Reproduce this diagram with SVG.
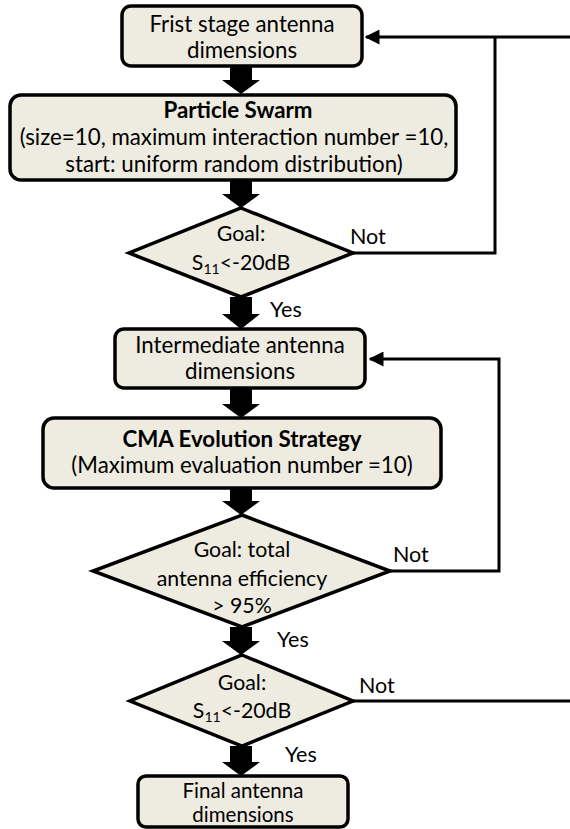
<svg xmlns="http://www.w3.org/2000/svg" width="570" height="829" viewBox="0 0 570 829">
<style>
.n{fill:#EEECE1;stroke:#000;stroke-width:3.5}
.t{font-family:Lato,"Liberation Sans",sans-serif;font-size:22.3px;fill:#000;text-anchor:middle}
.d{font-size:21.3px}
.f{font-size:20.5px}
.b{font-weight:bold}
.l{font-family:Lato,"Liberation Sans",sans-serif;font-size:21.5px;fill:#000}
.c{fill:none;stroke:#000;stroke-width:3}
.ba{fill:#000}
</style>
<defs>
<marker id="ah" markerWidth="5" markerHeight="5" refX="4.5" refY="2.5" orient="auto" markerUnits="strokeWidth">
<path d="M0,0 L5,2.5 L0,5 Z" fill="#000"/>
</marker>
</defs>
<rect width="570" height="829" fill="#fff"/>
<g id="connectors">
<path class="c" d="M570,37 L366,37" marker-end="url(#ah)"/>
<path class="c" d="M353,253 L495,253 L495,37"/>
<path class="c" d="M390,571 L499,571 L499,359 L370,359" marker-end="url(#ah)"/>
<path class="c" d="M353,701 L570,701"/>
<path class="ba" d="M230,66 L252,66 L252,80 L260,80 L241,94 L222,80 L230,80 Z"/>
<path class="ba" d="M230,180 L252,180 L252,194 L260,194 L241,208 L222,194 L230,194 Z"/>
<path class="ba" d="M230,297 L252,297 L252,314 L260,314 L241,329 L222,314 L230,314 Z"/>
<path class="ba" d="M230,388 L252,388 L252,404 L260,404 L241,418 L222,404 L230,404 Z"/>
<path class="ba" d="M230,488 L252,488 L252,501 L260,501 L241,515 L222,501 L230,501 Z"/>
<path class="ba" d="M230,627 L252,627 L252,641 L260,641 L241,655 L222,641 L230,641 Z"/>
<path class="ba" d="M230,746 L252,746 L252,762 L260,762 L241,776 L222,762 L230,762 Z"/>
<text class="l" x="350" y="244">Not</text>
<text class="l" x="270" y="317">Yes</text>
<text class="l" x="393" y="562">Not</text>
<text class="l" x="277" y="647">Yes</text>
<text class="l" x="359" y="693">Not</text>
<text class="l" x="285" y="762">Yes</text>
</g>
<g id="n1">
<rect class="n" x="122" y="6" width="240" height="60" rx="9"/>
<text class="t" x="242" y="32">Frist stage antenna</text>
<text class="t" x="242" y="58">dimensions</text>
</g>
<g id="n2">
<rect class="n" x="10" y="95" width="446" height="85" rx="11"/>
<text class="t b" x="238" y="118">Particle Swarm</text>
<text class="t" x="234" y="145">(size=10, maximum interaction number =10,</text>
<text class="t" x="234" y="172">start: uniform random distribution)</text>
</g>
<g id="n3">
<polygon class="n" points="241,208 353,253 241,297 129,253"/>
<text class="t d" x="241" y="241">Goal:</text>
<text class="t d" x="241" y="270">S<tspan font-size="14" dy="4">11</tspan><tspan dy="-4">&lt;-20dB</tspan></text>
</g>
<g id="n4">
<rect class="n" x="115" y="329" width="250" height="59" rx="9"/>
<text class="t" x="240" y="353">Intermediate antenna</text>
<text class="t" x="240" y="379">dimensions</text>
</g>
<g id="n5">
<rect class="n" x="43" y="418" width="398" height="70" rx="11"/>
<text class="t b" x="242" y="447">CMA Evolution Strategy</text>
<text class="t" x="242" y="473">(Maximum evaluation number =10)</text>
</g>
<g id="n6">
<polygon class="n" points="242,515 390,571 242,627 93,571"/>
<text class="t d" x="242" y="557">Goal: total</text>
<text class="t d" x="242" y="586">antenna efficiency</text>
<text class="t d" x="242" y="613">&gt; 95%</text>
</g>
<g id="n7">
<polygon class="n" points="242,655 353,701 242,746 130,701"/>
<text class="t d" x="242" y="690">Goal:</text>
<text class="t d" x="242" y="718">S<tspan font-size="14" dy="4">11</tspan><tspan dy="-4">&lt;-20dB</tspan></text>
</g>
<g id="n8">
<rect class="n" x="138" y="776" width="210" height="51" rx="8"/>
<text class="t f" x="243" y="798">Final antenna</text>
<text class="t f" x="243" y="822">dimensions</text>
</g>
</svg>
